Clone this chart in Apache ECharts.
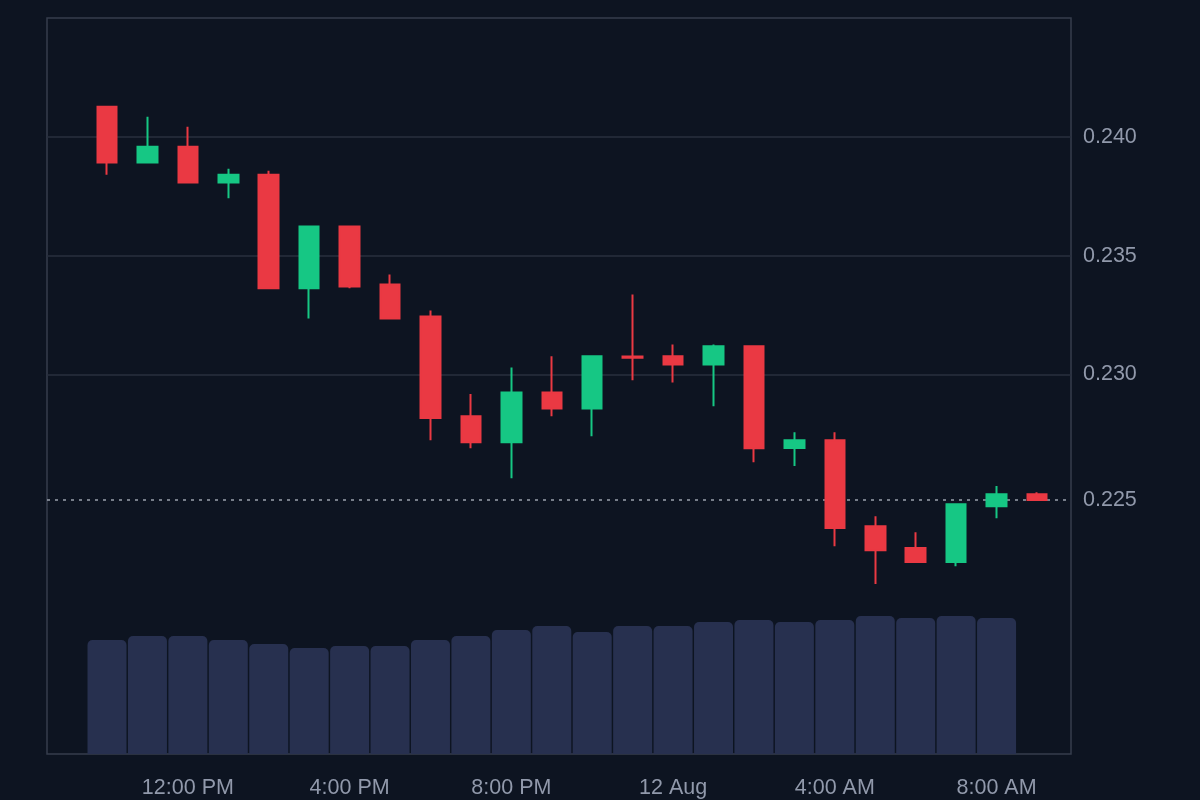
<!DOCTYPE html>
<html>
<head>
<meta charset="utf-8">
<title>Price chart</title>
<script src="https://cdn.jsdelivr.net/npm/echarts@6/dist/echarts.min.js"></script>
<style>
  html, body { margin: 0; padding: 0; background: #0d1421; }
  #chart { width: 1200px; height: 800px; }
</style>
</head>
<body>
<div id="chart"></div>
<script>
// hourly candles, 11 Aug 10:00 -> 12 Aug 09:00
const times = [
  '2024-08-11 10:00', '2024-08-11 11:00', '2024-08-11 12:00', '2024-08-11 13:00',
  '2024-08-11 14:00', '2024-08-11 15:00', '2024-08-11 16:00', '2024-08-11 17:00',
  '2024-08-11 18:00', '2024-08-11 19:00', '2024-08-11 20:00', '2024-08-11 21:00',
  '2024-08-11 22:00', '2024-08-11 23:00', '2024-08-12 00:00', '2024-08-12 01:00',
  '2024-08-12 02:00', '2024-08-12 03:00', '2024-08-12 04:00', '2024-08-12 05:00',
  '2024-08-12 06:00', '2024-08-12 07:00', '2024-08-12 08:00', '2024-08-12 09:00'
]
const open = [
  0.24126, 0.23892, 0.23958, 0.23808, 0.23840, 0.23363, 0.23622, 0.23378,
  0.23244, 0.22824, 0.22714, 0.22924, 0.22857, 0.23075, 0.23076, 0.23042,
  0.23118, 0.22690, 0.22723, 0.22361, 0.22269, 0.22210, 0.22445, 0.22496
]
const close = [
  0.23892, 0.23958, 0.23808, 0.23840, 0.23363, 0.23622, 0.23370, 0.23235,
  0.22816, 0.22714, 0.22924, 0.22857, 0.23076, 0.23070, 0.23042, 0.23118,
  0.22689, 0.22723, 0.22354, 0.22260, 0.22210, 0.22454, 0.22496, 0.22471
]
const low = [
  0.23840, 0.23892, 0.23808, 0.23741, 0.23363, 0.23235, 0.23363, 0.23235,
  0.22723, 0.22689, 0.22563, 0.22824, 0.22740, 0.22975, 0.22966, 0.22866,
  0.22630, 0.22615, 0.22277, 0.22118, 0.22210, 0.22193, 0.22395, 0.22471
]
const high = [
  0.24128, 0.24084, 0.24042, 0.23866, 0.23857, 0.23622, 0.23622, 0.23420,
  0.23269, 0.22918, 0.23029, 0.23076, 0.23076, 0.23336, 0.23126, 0.23126,
  0.23118, 0.22756, 0.22756, 0.22403, 0.22336, 0.22454, 0.22530, 0.22504
]
// volume in millions, the current hour has none yet
const volume = [
  11.4, 11.8, 11.8, 11.4, 11.0, 10.6, 10.8, 10.8, 11.4, 11.8, 12.4, 12.8,
  12.2, 12.8, 12.8, 13.2, 13.4, 13.2, 13.4, 13.8, 13.6, 13.8, 13.6
]
const xTickTimes = [
  '2024-08-11 12:00', '2024-08-11 16:00', '2024-08-11 20:00',
  '2024-08-12 00:00', '2024-08-12 04:00', '2024-08-12 08:00'
]
const xTickLabels = ['12:00 PM', '4:00 PM', '8:00 PM', '12 Aug', '4:00 AM', '8:00 AM']
const yTickValues = [0.230, 0.235, 0.240]

const ts = s => new Date(s.replace(' ', 'T') + ':00').getTime()
const HOUR = 3600 * 1000

const red = '#ea3943'
const green = '#16c784'
const textColor = '#9199ab'
const font = 'Liberation Sans, Arial, sans-serif'

const candleData = times.map((t, i) => [ts(t), open[i], close[i], low[i], high[i]])
const volumeData = volume.map((v, i) => [ts(times[i]), v])
const tickNums = xTickTimes.map(ts)
const lastClose = close[close.length - 1]

const xMin = ts(times[0]) - 1.484 * HOUR
const xMax = ts(times[times.length - 1]) + 0.841 * HOUR

const chart = echarts.init(document.getElementById('chart'))
const option = {
  backgroundColor: '#0d1421',
  animation: false,
  grid: [
    { left: 47, right: 129, top: 18, height: 594 },
    { left: 47, right: 129, top: 18, bottom: 46, show: true,
      borderColor: '#363d4c', borderWidth: 1.5, backgroundColor: 'transparent' }
  ],
  xAxis: [
    { type: 'value', gridIndex: 0, min: xMin, max: xMax, show: false },
    {
      type: 'value', gridIndex: 1, min: xMin, max: xMax,
      axisLine: { show: false }, axisTick: { show: false }, splitLine: { show: false },
      axisLabel: {
        customValues: tickNums,
        margin: 23,
        color: textColor,
        fontSize: 21.5,
        fontFamily: font,
        formatter: v => xTickLabels[tickNums.indexOf(v)] || ''
      }
    }
  ],
  yAxis: [
    {
      type: 'value', gridIndex: 0, position: 'right',
      min: 0.220, max: 0.245,
      axisLine: { show: false }, axisTick: { show: false }, splitLine: { show: false },
      axisLabel: {
        customValues: yTickValues,
        margin: 12,
        color: textColor,
        fontSize: 21.5,
        fontFamily: font,
        formatter: v => v.toFixed(3)
      }
    },
    { type: 'value', gridIndex: 1, min: 0, max: 73.6, show: false }
  ],
  series: [
    {
      type: 'bar',
      xAxisIndex: 1,
      yAxisIndex: 1,
      data: volumeData,
      barWidth: 39,
      itemStyle: { color: '#27304f', borderRadius: [5, 5, 0, 0] }
    },
    {
      type: 'candlestick',
      xAxisIndex: 0,
      yAxisIndex: 0,
      data: candleData,
      barWidth: 20,
      itemStyle: {
        color: green,
        color0: red,
        borderColor: green,
        borderColor0: red,
        borderWidth: 2
      },
      markLine: {
        silent: true,
        symbol: 'none',
        precision: 6,
        z: 1,
        animation: false,
        data: [
          ...yTickValues.map(v => ({
            yAxis: v,
            lineStyle: { color: '#282f3e', type: 'solid', width: 1.5 },
            label: { show: false }
          })),
          {
            yAxis: lastClose,
            lineStyle: { color: '#9aa1ad', type: [3, 5], width: 1.5 },
            label: {
              show: true,
              position: 'end',
              distance: 12,
              color: textColor,
              fontSize: 21.5,
              fontFamily: font,
              formatter: p => Number(p.value).toFixed(3)
            }
          }
        ]
      }
    }
  ]
}
chart.setOption(option)
</script>
</body>
</html>
